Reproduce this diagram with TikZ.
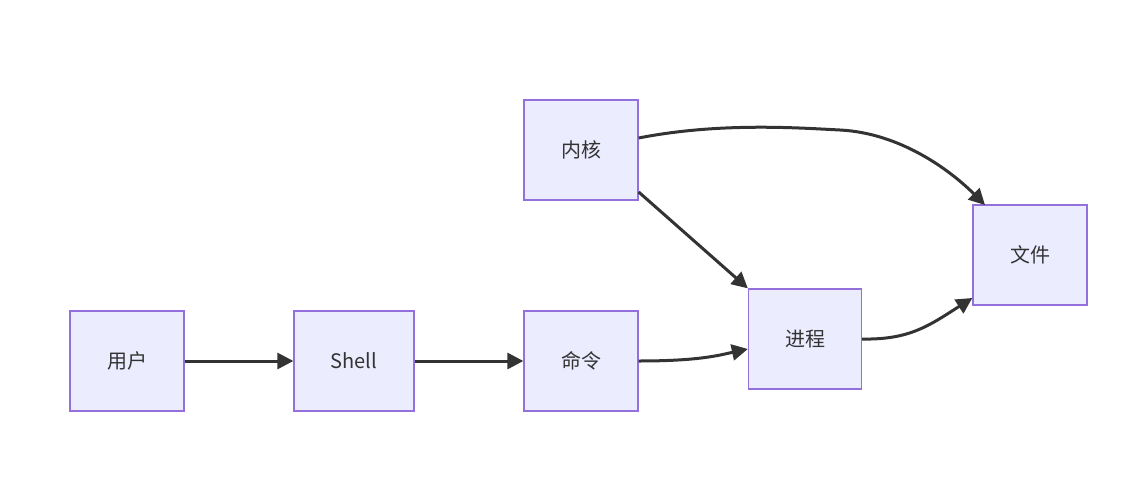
\documentclass[tikz,border=0pt]{standalone}
\usepackage{fontspec}
\setmainfont{Noto Sans CJK SC}
\usetikzlibrary{arrows.meta}
\definecolor{nfill}{HTML}{ECECFF}
\definecolor{nline}{HTML}{9370DB}
\definecolor{eline}{HTML}{333333}
\begin{document}
\begin{tikzpicture}[x=1pt,y=-1pt,
  box/.style={draw=nline,fill=nfill,line width=1.3pt,minimum height=100pt,font=\fontsize{20}{24}\selectfont,text=eline},
  e/.style={draw=eline,line width=3pt,-{Triangle[length=16pt,width=16pt]}}]
\useasboundingbox (0,0) rectangle (1135,493);
\node[box,minimum width=114pt] (u) at (127,361) {用户};
\node[box,minimum width=120pt] (s) at (354,361) {Shell};
\node[box,minimum width=114pt] (c) at (581,361) {命令};
\node[box,minimum width=114pt] (k) at (581,150) {内核};
\node[box,minimum width=113pt] (p) at (805,339) {进程};
\node[box,minimum width=114pt] (f) at (1030,255) {文件};
\draw[e] (u) -- (s);
\draw[e] (s) -- (c);
\draw[e] (c.east) .. controls (700,361) and (720,355) .. (p.west |- 0,349);
\draw[e] (k.east |- 0,192) -- (p.north west);
\draw[e] (k.east |- 0,138) .. controls (720,122) and (800,128) .. (840,130) .. controls (900,133) and (950,170) .. (985,205);
\draw[e] (p.east |- 0,339) .. controls (910,340) and (930,325) .. (f.west |- 0,298);
\end{tikzpicture}
\end{document}
